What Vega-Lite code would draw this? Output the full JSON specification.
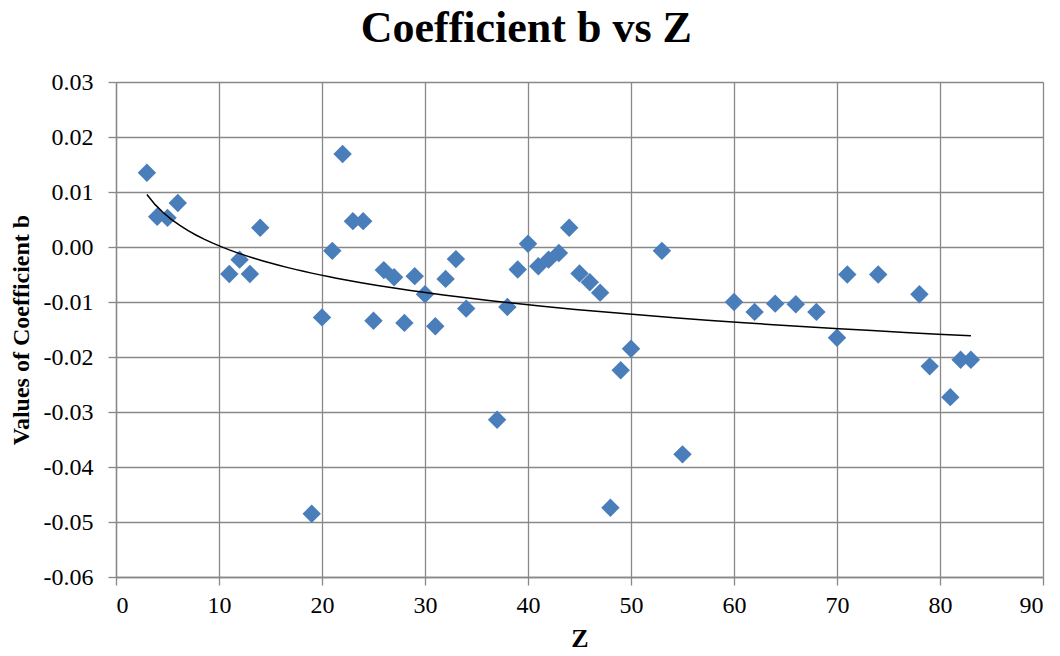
{
  "$schema": "https://vega.github.io/schema/vega-lite/v6.json",
  "width": 927,
  "height": 495,
  "autosize": {"type": "none"},
  "padding": {"left": 116, "top": 82, "right": 17, "bottom": 79},
  "background": "white",
  "title": {
    "text": "Coefficient b vs Z",
    "font": "Liberation Serif",
    "fontSize": 44,
    "fontWeight": "bold",
    "color": "black",
    "anchor": "middle",
    "frame": "bounds",
    "baseline": "alphabetic",
    "offset": -16
  },
  "data": {
    "values": [
      {"z": 3, "b": 0.0135},
      {"z": 4, "b": 0.0055},
      {"z": 5, "b": 0.0053},
      {"z": 6, "b": 0.0080},
      {"z": 11, "b": -0.0049},
      {"z": 12, "b": -0.0023},
      {"z": 13, "b": -0.0049},
      {"z": 14, "b": 0.0035},
      {"z": 19, "b": -0.0485},
      {"z": 20, "b": -0.0128},
      {"z": 21, "b": -0.0007},
      {"z": 22, "b": 0.0169},
      {"z": 23, "b": 0.0047},
      {"z": 24, "b": 0.0047},
      {"z": 25, "b": -0.0134},
      {"z": 26, "b": -0.0042},
      {"z": 27, "b": -0.0055},
      {"z": 28, "b": -0.0138},
      {"z": 29, "b": -0.0053},
      {"z": 30, "b": -0.0086},
      {"z": 31, "b": -0.0144},
      {"z": 32, "b": -0.0058},
      {"z": 33, "b": -0.0022},
      {"z": 34, "b": -0.0112},
      {"z": 37, "b": -0.0314},
      {"z": 38, "b": -0.0109},
      {"z": 39, "b": -0.0041},
      {"z": 40, "b": 0.0006},
      {"z": 41, "b": -0.0035},
      {"z": 42, "b": -0.0023},
      {"z": 43, "b": -0.0011},
      {"z": 44, "b": 0.0035},
      {"z": 45, "b": -0.0048},
      {"z": 46, "b": -0.0064},
      {"z": 47, "b": -0.0083},
      {"z": 48, "b": -0.0474},
      {"z": 49, "b": -0.0224},
      {"z": 50, "b": -0.0185},
      {"z": 53, "b": -0.0007},
      {"z": 55, "b": -0.0377},
      {"z": 60, "b": -0.0100},
      {"z": 62, "b": -0.0118},
      {"z": 64, "b": -0.0103},
      {"z": 66, "b": -0.0104},
      {"z": 68, "b": -0.0118},
      {"z": 70, "b": -0.0165},
      {"z": 71, "b": -0.0050},
      {"z": 74, "b": -0.0050},
      {"z": 78, "b": -0.0086},
      {"z": 79, "b": -0.0217},
      {"z": 81, "b": -0.0273},
      {"z": 82, "b": -0.0205},
      {"z": 83, "b": -0.0205}
    ]
  },
  "encoding": {
    "x": {
      "field": "z",
      "type": "quantitative",
      "scale": {"domain": [0, 90], "nice": false, "zero": false},
      "axis": {
        "values": [0, 10, 20, 30, 40, 50, 60, 70, 80, 90],
        "title": "Z",
        "titleFontSize": 26,
        "labelPadding": 8,
        "titlePadding": 8
      }
    },
    "y": {
      "field": "b",
      "type": "quantitative",
      "scale": {"domain": [-0.06, 0.03], "nice": false, "zero": false},
      "axis": {
        "values": [-0.06, -0.05, -0.04, -0.03, -0.02, -0.01, 0, 0.01, 0.02, 0.03],
        "labelExpr": "replace(format(datum.value, '.2f'), '\u2212', '-')",
        "title": "Values of Coefficient b",
        "titleFontSize": 24,
        "labelPadding": 15,
        "titlePadding": 10
      }
    }
  },
  "layer": [
    {
      "mark": {"type": "point", "shape": "diamond", "filled": true, "size": 340, "color": "#4A7EBB", "opacity": 1}
    },
    {
      "transform": [{"regression": "b", "on": "z", "method": "log", "extent": [3, 83]}],
      "mark": {"type": "line", "color": "black", "strokeWidth": 1.5}
    }
  ],
  "config": {
    "view": {"stroke": null},
    "axis": {
      "grid": true,
      "gridColor": "#888888",
      "gridWidth": 1.3,
      "domainColor": "#888888",
      "domainWidth": 1.3,
      "tickColor": "#888888",
      "tickWidth": 1.3,
      "tickSize": 8,
      "labelFont": "Liberation Serif",
      "labelFontSize": 24,
      "labelColor": "black",
      "titleFont": "Liberation Serif",
      "titleFontWeight": "bold",
      "titleColor": "black"
    }
  }
}
